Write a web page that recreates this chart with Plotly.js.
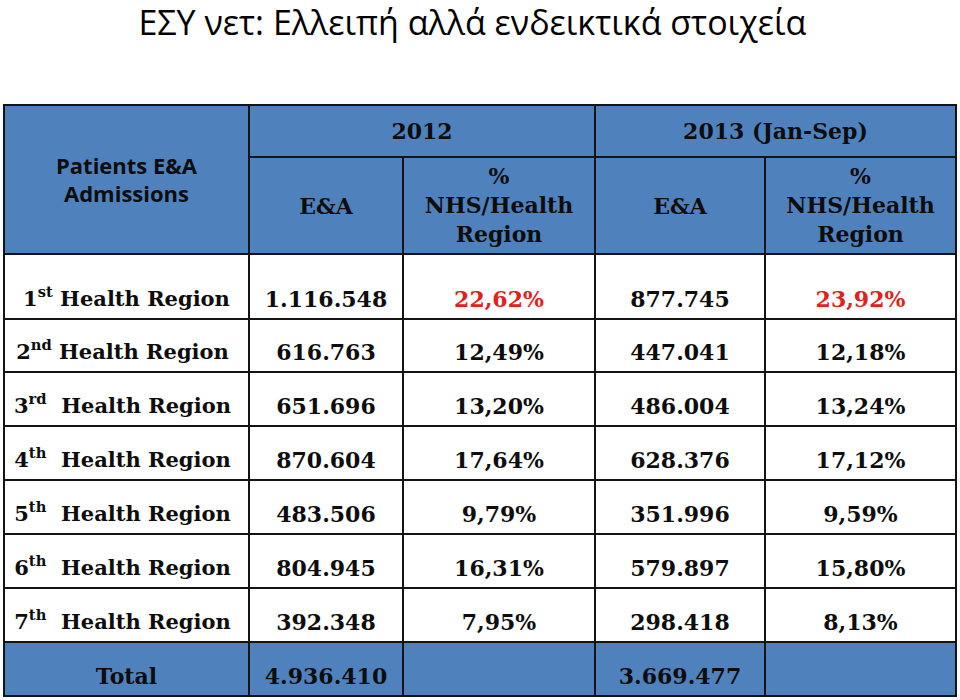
<!DOCTYPE html>
<html>
<head>
<meta charset="utf-8">
<script src="https://cdn.plot.ly/plotly-3.0.1.min.js"></script>
<style>html,body{margin:0;padding:0;background:#fff;}</style>
</head>
<body>
<div id="chart" style="width:960px;height:700px;"></div>
<script>
// ---- data ----
const chartTitle = 'ΕΣΥ νετ: Ελλειπή αλλά ενδεικτικά στοιχεία';
const cornerHeader = 'Patients E&A<br>Admissions';
const yearHeaders = ['2012', '2013 (Jan-Sep)'];
const subHeaders = ['E&A', '%<br>NHS/Health<br>Region', 'E&A', '%<br>NHS/Health<br>Region'];
const regions = ['1<sup>st</sup> Health Region', '2<sup>nd</sup> Health Region', '3<sup>rd</sup>\u00A0 Health Region',
  '4<sup>th</sup>\u00A0 Health Region', '5<sup>th</sup>\u00A0 Health Region', '6<sup>th</sup>\u00A0 Health Region',
  '7<sup>th</sup>\u00A0 Health Region'];
const totalLabel = 'Total';
const ea2012 = [1116548, 616763, 651696, 870604, 483506, 804945, 392348];
const pct2012 = [22.62, 12.49, 13.20, 17.64, 9.79, 16.31, 7.95];
const ea2013 = [877745, 447041, 486004, 628376, 351996, 579897, 298418];
const pct2013 = [23.92, 12.18, 13.24, 17.12, 9.59, 15.80, 8.13];
const total2012 = 4936410;
const total2013 = 3669477;
const highlightRow = 0; // first region drawn in red in the % columns

// ---- helpers ----
function fmtInt(n) { return String(n).replace(/\B(?=(\d{3})+(?!\d))/g, '.'); }
function fmtPct(v) { return v.toFixed(2).replace('.', ',') + '%'; }
function b(s) { return '<b>' + s + '</b>'; }
function mids(e) { return e.slice(0, -1).map((v, i) => (v + e[i + 1]) / 2); }

// ---- geometry (styling) ----
const W = 960, H = 700;
const blue = '#4F81BD';
const red = '#E3211C';
const ink = '#0d0d0d';
const serif = 'DejaVu Serif';
const sans = 'Open Sans';

const xEdges = [4, 249, 403, 595, 765, 956];
const hTop = 105, hMid = 157, hBot = 254;
const bodyEdges = [254, 319, 372, 426, 480, 534, 588, 642, 696];
const textLift = 18; // body text centre sits this far above the cell bottom

// ---- columns of body text ----
const col0 = regions.map(b).concat([b(totalLabel)]);
const col1 = ea2012.map(v => b(fmtInt(v))).concat([b(fmtInt(total2012))]);
const col2 = pct2012.map(v => b(fmtPct(v))).concat(['']);
const col3 = ea2013.map(v => b(fmtInt(v))).concat([b(fmtInt(total2013))]);
const col4 = pct2013.map(v => b(fmtPct(v))).concat(['']);
const cols = [col0, col1, col2, col3, col4];
const nRows = col0.length;

// fill category: 0 = white, 1 = blue (total row)
const bodyZ = [];
for (let r = 0; r < nRows; r++) bodyZ.push(cols.map(() => (r === nRows - 1 ? 1 : 0)));

const xMid = mids(xEdges);
const bodyX = [], bodyY = [], bodyT = [], bodyC = [], bodyS = [];
cols.forEach((c, ci) => c.forEach((t, ri) => {
  if (!t) return;
  const isLabel = ci === 0 && ri > 0 && ri < nRows - 1;
  bodyX.push(isLabel ? xMid[ci] - 4 : xMid[ci]);
  bodyY.push(bodyEdges[ri + 1] - textLift);
  bodyT.push(t);
  bodyC.push(ri === highlightRow && (ci === 2 || ci === 4) ? red : ink);
  bodyS.push(ci === 0 && ri < nRows - 1 ? 21 : 22);
}));

const scale = [[0, 'white'], [1, blue]];
const hm = {type: 'heatmap', colorscale: scale, zmin: 0, zmax: 1, showscale: false,
  xgap: 2, ygap: 2, hoverinfo: 'skip'};

const yearEdges = [xEdges[1], xEdges[3], xEdges[5]];
const subY = subHeaders.map(s => (hMid + hBot) / 2 + (s.indexOf('<br>') >= 0 ? 2 : 3));

const traces = [
  Object.assign({}, hm, {x: [xEdges[0], xEdges[1]], y: [hTop, hBot], z: [[1]]}),
  Object.assign({}, hm, {x: yearEdges, y: [hTop, hMid], z: [yearHeaders.map(() => 1)]}),
  Object.assign({}, hm, {x: xEdges.slice(1), y: [hMid, hBot], z: [subHeaders.map(() => 1)]}),
  Object.assign({}, hm, {x: xEdges, y: bodyEdges, z: bodyZ}),
  { // corner header text
    type: 'scatter', mode: 'text', hoverinfo: 'skip',
    x: [(xEdges[0] + xEdges[1]) / 2], y: [(hTop + hBot) / 2 + 3], text: [b(cornerHeader)],
    textposition: 'middle center',
    textfont: {family: sans, size: 22, color: ink}
  },
  { // year headers
    type: 'scatter', mode: 'text', hoverinfo: 'skip',
    x: mids(yearEdges), y: yearHeaders.map(() => (hTop + hMid) / 2 + 2), text: yearHeaders.map(b),
    textposition: 'middle center',
    textfont: {family: serif, size: 22, color: ink}
  },
  { // sub headers
    type: 'scatter', mode: 'text', hoverinfo: 'skip',
    x: mids(xEdges).slice(1), y: subY, text: subHeaders.map(b),
    textposition: 'middle center',
    textfont: {family: serif, size: 22, color: ink}
  },
  { // body
    type: 'scatter', mode: 'text', hoverinfo: 'skip',
    x: bodyX, y: bodyY, text: bodyT,
    textposition: 'middle center',
    textfont: {family: serif, size: bodyS, color: bodyC}
  }
];

const axisBase = {showgrid: false, zeroline: false, showticklabels: false, ticks: '',
  showline: false, fixedrange: true};

const layout = {
  width: W, height: H,
  margin: {l: 0, r: 0, t: 0, b: 0},
  paper_bgcolor: 'white',
  plot_bgcolor: '#141414',
  showlegend: false,
  xaxis: Object.assign({}, axisBase, {range: [3, 957], domain: [3 / W, 957 / W]}),
  yaxis: Object.assign({}, axisBase, {range: [697, 104], domain: [1 - 697 / H, 1 - 104 / H]}),
  title: {text: chartTitle, x: 0.492, xanchor: 'center', y: 1 - 23 / H, yref: 'container', yanchor: 'middle',
    font: {family: 'Open Sans', size: 34, color: '#000'}}
};

Plotly.newPlot('chart', traces, layout, {displayModeBar: false, staticPlot: true});
</script>
</body>
</html>
